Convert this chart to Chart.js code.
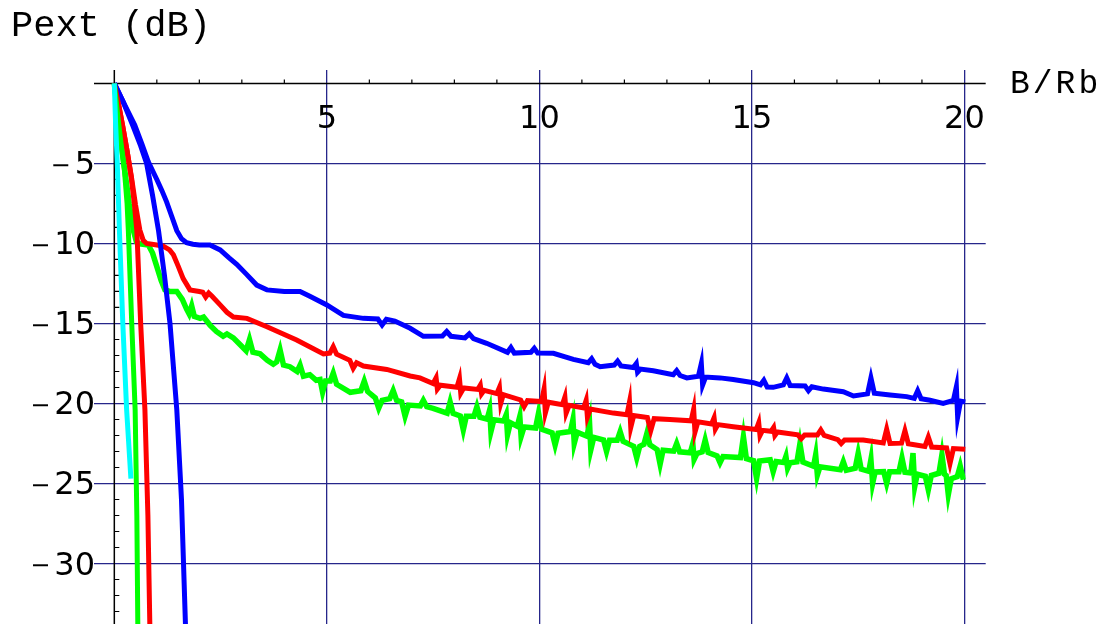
<!DOCTYPE html>
<html>
<head>
<meta charset="utf-8">
<script src="https://cdn.jsdelivr.net/npm/chart.js@4.4.0/dist/chart.umd.min.js"></script>
<style>
  html, body { margin: 0; padding: 0; background: #fff; overflow: hidden; }
</style>
</head>
<body>
<canvas id="c" width="1112" height="624"></canvas>
<script>
// tick labels and axis titles
const xTicks = [5, 10, 15, 20];
const yTicks = [-5, -10, -15, -20, -25, -30];
const xTitle = 'B/Rb';
const yTitle = 'Pext (dB)';

// steep curves [x, y]
const cyanSteep = [[0,0],[0.03,-2.5],[0.07,-5],[0.12,-9.2],[0.2,-15],[0.29,-20.4],[0.39,-24.7]];
const greenSteep = [[0,0],[0.08,-2],[0.17,-4],[0.24,-5.5],[0.3,-7.5],[0.33,-9.2],[0.41,-15],[0.49,-20.4],[0.53,-27],[0.56,-36]];
const redSteep = [[0,0],[0.1,-1.3],[0.2,-2.7],[0.3,-4.2],[0.4,-5.9],[0.47,-7.5],[0.53,-9.2],[0.62,-15],[0.72,-20.4],[0.79,-27],[0.85,-36]];
const blueSteep = [[0,0],[0.2,-1.1],[0.43,-2.6],[0.62,-3.9],[0.76,-5],[0.9,-7],[1.04,-9.2],[1.18,-12],[1.31,-15],[1.47,-20.4],[1.58,-26],[1.7,-36]];

// slow curves [x, y]
const blueSlow = [[0,0],[0.2,-1.1],[0.48,-2.6],[0.65,-3.8],[0.8,-4.9],[1.0,-6.0],[1.12,-6.7],[1.23,-7.4],[1.35,-8.3],[1.47,-9.2],[1.58,-9.7],[1.7,-9.95],
  [1.85,-10.05],[2.0,-10.1],[2.25,-10.1],[2.49,-10.4],[2.7,-10.9],[2.88,-11.3],[3.1,-11.9],[3.35,-12.6],[3.59,-12.9],[4.0,-13.0],[4.37,-13.0],[4.6,-13.3],
  [5.0,-13.84],[5.39,-14.5],[5.86,-14.68],[6.2,-14.72],[6.3,-15.1],[6.4,-14.74],[6.6,-14.85],[6.96,-15.3],[7.27,-15.8],
  [7.72,-15.78],[7.82,-15.5],[7.92,-15.8],[8.25,-15.9],[8.35,-15.65],[8.45,-15.95],[8.76,-16.24],
  [9.25,-16.8],[9.33,-16.5],[9.41,-16.85],[9.8,-16.8],[9.88,-16.55],[9.96,-16.85],[10.33,-16.86],[10.8,-17.24],
  [11.15,-17.45],[11.23,-17.2],[11.31,-17.55],[11.43,-17.7],[11.76,-17.6],[11.84,-17.35],[11.92,-17.65],
  [12.21,-17.75],[12.28,-17.5],[12.31,-18.05],[12.38,-17.85],[12.68,-17.95],[13.15,-18.2],[13.23,-17.95],[13.31,-18.25],[13.47,-18.4],
  [13.74,-18.3],[13.81,-17.5],[13.84,-18.85],[13.91,-18.35],[14.25,-18.4],[14.56,-18.5],[15.04,-18.7],
  [15.2,-18.84],[15.28,-18.55],[15.36,-18.98],[15.5,-18.99],[15.74,-18.84],[15.82,-18.4],[15.9,-18.88],
  [16.25,-18.9],[16.33,-19.2],[16.41,-18.95],[16.68,-19.1],[17.15,-19.26],[17.39,-19.53],
  [17.72,-19.4],[17.8,-18.4],[17.88,-19.36],[18.25,-19.47],[18.64,-19.57],[18.82,-19.68],[18.9,-19.2],[18.98,-19.7],
  [19.19,-19.8],[19.5,-19.99],[19.74,-19.8],[19.81,-18.95],[19.84,-20.85],[19.91,-19.85],[20.02,-19.9]];

const redSlow = [[0,0],[0.1,-1.3],[0.2,-2.7],[0.3,-4.2],[0.4,-5.8],[0.5,-7.6],[0.6,-9.16],[0.68,-9.8],[0.76,-10.0],[1.0,-10.1],[1.15,-10.16],
  [1.3,-10.4],[1.39,-10.7],[1.5,-11.4],[1.62,-12.2],[1.78,-12.9],[2.0,-13.0],[2.08,-13.05],[2.15,-13.35],[2.22,-13.1],[2.3,-13.3],[2.49,-13.84],
  [2.65,-14.3],[2.8,-14.6],[3.12,-14.68],[3.59,-15.2],[4.29,-16.03],[4.92,-16.9],
  [5.07,-16.85],[5.15,-16.45],[5.23,-16.92],[5.54,-17.3],[5.62,-17.8],[5.7,-17.45],[5.86,-17.66],[6.41,-17.87],[6.96,-18.28],[7.19,-18.4],
  [7.5,-18.75],[7.57,-18.4],[7.6,-19.1],[7.67,-18.86],[8.06,-18.98],[8.12,-18.45],[8.15,-19.35],[8.22,-19.03],
  [8.55,-19.12],[8.61,-18.85],[8.64,-19.4],[8.7,-19.18],[9.0,-19.38],[9.06,-19.0],[9.09,-20.0],[9.15,-19.45],
  [9.56,-19.78],[9.64,-20.2],[9.72,-19.82],[10.05,-19.88],[10.11,-19.1],[10.14,-20.6],[10.21,-19.92],
  [10.54,-20.08],[10.6,-19.6],[10.63,-20.6],[10.7,-20.12],[11.04,-20.28],[11.1,-19.8],[11.13,-20.85],[11.2,-20.35],
  [11.74,-20.6],[12.06,-20.7],[12.12,-19.9],[12.15,-21.5],[12.22,-20.75],[12.54,-20.88],[12.62,-21.7],[12.7,-20.95],
  [13.07,-21.0],[13.57,-21.08],[13.63,-20.35],[13.66,-21.8],[13.73,-21.15],[14.05,-21.28],[14.11,-20.9],[14.14,-21.6],[14.2,-21.32],
  [14.56,-21.45],[15.1,-21.63],[15.16,-21.2],[15.19,-22.0],[15.25,-21.68],[15.45,-21.74],[15.51,-21.5],[15.54,-22.0],[15.6,-21.78],
  [16.08,-21.96],[16.16,-22.2],[16.24,-21.97],[16.54,-21.97],[16.62,-21.65],[16.7,-22.0],[17.02,-22.26],[17.1,-22.5],[17.18,-22.28],
  [17.62,-22.28],[18.09,-22.47],[18.17,-21.6],[18.25,-22.5],[18.52,-22.48],[18.6,-21.7],[18.68,-22.52],
  [19.07,-22.68],[19.15,-22.1],[19.23,-22.72],[19.58,-22.78],[19.66,-23.75],[19.74,-22.82],[20.02,-22.86]];

const greenSlow = [[0,0],[0.08,-2],[0.17,-4],[0.25,-5.5],[0.35,-7.5],[0.45,-9.2],[0.52,-9.9],[0.6,-10.03],[0.8,-10.1],[0.9,-10.6],[1.0,-11.45],
  [1.1,-12.3],[1.19,-12.9],[1.3,-13.0],[1.47,-13.0],[1.6,-13.5],[1.7,-14.1],[1.76,-14.4],[1.82,-13.9],[1.88,-14.55],[2.02,-14.68],[2.1,-14.6],
  [2.25,-15.1],[2.4,-15.5],[2.56,-15.8],[2.65,-15.65],[2.8,-15.9],[2.95,-16.3],[3.1,-16.7],[3.18,-16.0],[3.26,-16.8],[3.43,-16.9],[3.6,-17.3],
  [3.74,-17.55],[3.82,-17.4],[3.9,-16.65],[3.98,-17.6],[4.13,-17.7],[4.3,-18.0],[4.37,-17.6],[4.45,-18.3],[4.6,-18.2],[4.75,-18.55],[4.84,-18.5],
  [4.9,-19.3],[4.97,-18.6],[5.08,-18.6],[5.15,-18.1],[5.23,-18.8],[5.55,-19.3],[5.8,-19.2],[5.88,-18.6],[5.96,-19.25],[6.14,-19.65],[6.22,-20.3],
  [6.3,-19.8],[6.48,-19.7],[6.56,-19.2],[6.64,-19.8],[6.76,-19.9],[6.84,-20.8],[6.92,-20.1],[7.2,-20.15],[7.27,-19.8],[7.35,-20.2],[7.5,-20.3],
  [7.83,-20.6],[7.9,-19.9],[7.97,-20.62],[8.14,-20.78],[8.21,-21.65],[8.28,-20.8],[8.46,-20.8],[8.53,-20.2],[8.6,-20.86],
  [8.77,-20.98],[8.83,-20.4],[8.86,-21.76],[8.93,-21.02],[9.16,-21.1],[9.22,-20.7],[9.25,-21.97],[9.32,-21.2],
  [9.48,-21.42],[9.54,-20.8],[9.57,-22.07],[9.64,-21.47],[9.91,-21.53],[9.98,-20.6],[10.05,-21.6],[10.3,-21.84],[10.37,-22.6],[10.44,-21.86],
  [10.73,-21.75],[10.79,-21.0],[10.82,-22.5],[10.89,-21.8],[11.12,-22.05],[11.18,-21.2],[11.21,-22.9],[11.28,-22.12],
  [11.51,-22.28],[11.58,-23.0],[11.65,-22.3],[11.83,-22.3],[11.9,-21.76],[11.97,-22.36],[12.22,-22.68],[12.29,-23.4],[12.36,-22.68],
  [12.46,-22.55],[12.53,-21.86],[12.6,-22.58],[12.77,-22.88],[12.84,-23.8],[12.91,-22.92],[13.16,-22.98],[13.23,-22.5],[13.3,-23.02],
  [13.55,-23.08],[13.61,-22.5],[13.64,-23.5],[13.71,-23.12],[13.83,-23.02],[13.9,-22.28],[13.97,-23.06],[14.18,-23.28],[14.25,-23.7],[14.32,-23.32],
  [14.73,-23.38],[14.8,-22.07],[14.87,-23.45],[15.04,-23.58],[15.11,-24.7],[15.18,-23.6],[15.43,-23.52],[15.5,-24.26],[15.57,-23.62],
  [15.75,-23.68],[15.8,-23.3],[15.84,-24.05],[15.9,-23.7],[16.06,-23.64],[16.13,-22.5],[16.2,-23.66],
  [16.45,-23.92],[16.5,-23.2],[16.54,-24.47],[16.6,-23.96],[17.08,-24.14],[17.15,-23.64],[17.22,-24.18],[17.43,-24.05],[17.5,-23.1],[17.57,-24.1],
  [17.75,-24.24],[17.8,-23.5],[17.84,-25.0],[17.9,-24.28],[18.1,-24.26],[18.17,-25.0],[18.24,-24.26],[18.46,-24.26],[18.53,-23.4],[18.6,-24.3],
  [18.74,-24.34],[18.79,-23.1],[18.83,-25.2],[18.89,-24.42],[19.08,-24.55],[19.15,-25.4],[19.22,-24.5],[19.4,-24.36],[19.47,-23.2],[19.53,-24.42],
  [19.57,-24.5],[19.62,-25.7],[19.69,-24.7],[19.83,-24.57],[19.9,-23.9],[19.96,-24.6],[20.02,-24.57]];

const xMin = -0.478, xMax = 20.5, yMin = -33.78, yMax = 0.84;
const gridColor = '#26268a';

function line(data, color, width) {
  return {
    data: data.map(p => ({ x: p[0], y: p[1] })),
    showLine: true, borderColor: color, backgroundColor: color,
    borderWidth: width, pointRadius: 0, fill: false, tension: 0
  };
}

const axesPlugin = {
  id: 'mmaAxes',
  beforeDatasetsDraw(chart) {
    const { ctx, chartArea: a, scales: { x, y } } = chart;
    const x0 = x.getPixelForValue(0), y0 = y.getPixelForValue(0);
    ctx.save();
    ctx.strokeStyle = '#000';
    ctx.lineWidth = 1.5;
    ctx.beginPath();
    ctx.moveTo(a.left, y0); ctx.lineTo(a.right, y0);
    ctx.moveTo(x0, a.top); ctx.lineTo(x0, a.bottom);
    ctx.stroke();
    ctx.lineWidth = 1.2;
    ctx.beginPath();
    for (let v = 1; v < xMax; v++) {
      if (xTicks.includes(v)) continue;
      const px = x.getPixelForValue(v);
      ctx.moveTo(px, y0); ctx.lineTo(px, y0 - 4);
    }
    for (let v = -1; v > yMin; v--) {
      if (yTicks.includes(v)) continue;
      const py = y.getPixelForValue(v);
      ctx.moveTo(x0, py); ctx.lineTo(x0 + 5, py);
    }
    ctx.stroke();
    ctx.restore();
  },
  afterDraw(chart) {
    const { ctx, scales: { x, y } } = chart;
    const x0 = x.getPixelForValue(0), y0 = y.getPixelForValue(0);
    ctx.save();
    ctx.fillStyle = '#000';
    ctx.textBaseline = 'alphabetic';
    ctx.font = '32px "DejaVu Sans"';
    ctx.textAlign = 'center';
    xTicks.forEach(v => ctx.fillText(String(v), x.getPixelForValue(v), y0 + 44.5));
    yTicks.forEach(v => {
      const py = y.getPixelForValue(v);
      const digits = String(Math.abs(v));
      ctx.font = '32px "DejaVu Sans"';
      ctx.textAlign = 'right';
      const right = x0 - 19.3;
      ctx.fillText(digits, right, py + 11);
      const w = ctx.measureText(digits).width;
      ctx.font = '24px "DejaVu Sans"';
      ctx.fillText('\u2212', right - w + 3.5 - 10 + 2.5, py + 9.5);
    });
    ctx.textAlign = 'left';
    ctx.font = '37px "Liberation Mono"';
    ctx.fillText(yTitle, 11, 36);
    ctx.font = '33px "Liberation Mono"';
    ctx.letterSpacing = '3px';
    ctx.fillText(xTitle, 1010, 93);
    ctx.restore();
  }
};

new Chart(document.getElementById('c'), {
  type: 'scatter',
  data: {
    datasets: [
      line(cyanSteep, '#00ffff', 5),
      line(greenSteep, '#00ff00', 5),
      line(redSteep, '#ff0000', 5),
      line(blueSteep, '#0000ff', 5),
      line(blueSlow, '#0000ff', 5),
      line(redSlow, '#ff0000', 5),
      line(greenSlow, '#00ff00', 5.5)
    ]
  },
  options: {
    responsive: false,
    animation: false,
    devicePixelRatio: 1,
    events: [],
    layout: { padding: { left: 94, right: 126.3, top: 70, bottom: 0 } },
    plugins: { legend: { display: false }, tooltip: { enabled: false } },
    scales: {
      x: {
        type: 'linear', min: xMin, max: xMax,
        afterBuildTicks: s => { s.ticks = [0].concat(xTicks).map(v => ({ value: v })); },
        afterFit: s => { s.height = 0; },
        ticks: { display: false },
        border: { display: false },
        grid: { drawTicks: false, lineWidth: 1.3, color: c => c.tick && c.tick.value === 0 ? 'rgba(0,0,0,0)' : gridColor }
      },
      y: {
        type: 'linear', min: yMin, max: yMax,
        afterBuildTicks: s => { s.ticks = [0].concat(yTicks).map(v => ({ value: v })); },
        afterFit: s => { s.width = 0; },
        ticks: { display: false },
        border: { display: false },
        grid: { drawTicks: false, lineWidth: 1.3, color: c => c.tick && c.tick.value === 0 ? 'rgba(0,0,0,0)' : gridColor }
      }
    }
  },
  plugins: [axesPlugin]
});
</script>
</body>
</html>
